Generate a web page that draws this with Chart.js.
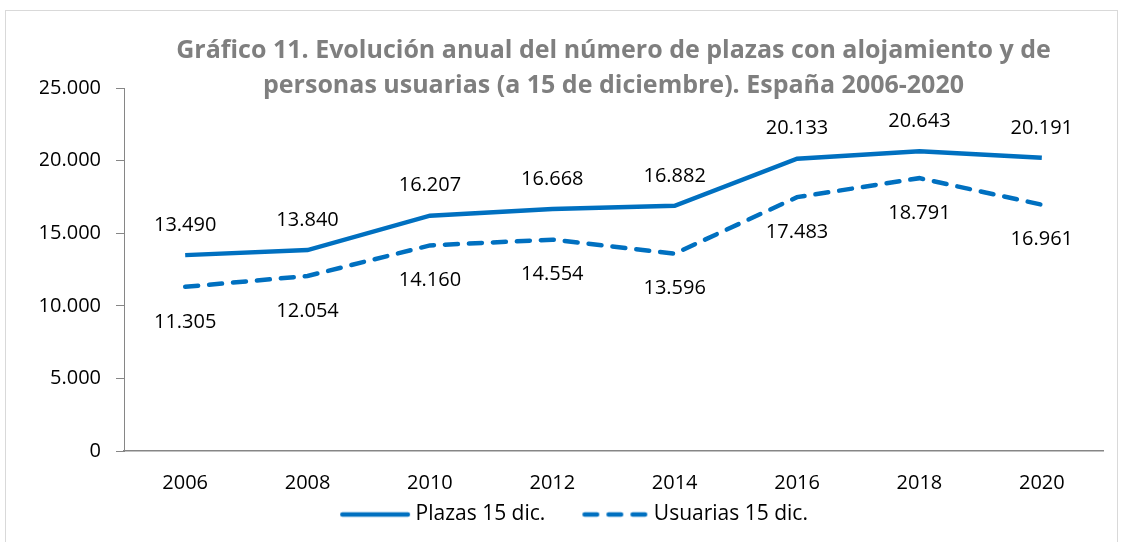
<!DOCTYPE html>
<html>
<head>
<meta charset="utf-8">
<script src="https://cdn.jsdelivr.net/npm/chart.js@4"></script>
<style>
  html, body { margin: 0; padding: 0; background: #fff; }
  #wrap { position: absolute; left: 5px; top: 10px; width: 1113px; height: 540px; border: 1px solid #d9d9d9; box-sizing: border-box; }
  #box { position: absolute; left: 0; top: 0; width: 1123px; height: 542px; }
</style>
</head>
<body>
<div id="wrap"></div>
<div id="box"><canvas id="chart" width="1123" height="542"></canvas></div>
<script>
const years = ['2006', '2008', '2010', '2012', '2014', '2016', '2018', '2020'];
const plazas = [13490, 13840, 16207, 16668, 16882, 20133, 20643, 20191];
const usuarias = [11305, 12054, 14160, 14554, 13596, 17483, 18791, 16961];
const seriesNames = ['Plazas 15 dic.', 'Usuarias 15 dic.'];
const titleLines = [
  'Gráfico 11. Evolución anual del número de plazas con alojamiento y de',
  'personas usuarias (a 15 de diciembre). España 2006-2020'
];

const FONT = "'Open Sans', sans-serif";
const BLUE = '#0070c0';
const LW = 4.5;

function fmt(v) {
  return String(v).replace(/\B(?=(\d{3})+(?!\d))/g, '.');
}

// small canvases used as legend symbols (solid / dashed line)
function lineSymbol(from, to, dash) {
  const c = document.createElement('canvas');
  c.width = 100;
  c.height = 8;
  const g = c.getContext('2d');
  g.strokeStyle = BLUE;
  g.lineWidth = LW;
  g.lineCap = 'round';
  g.setLineDash(dash);
  g.beginPath();
  g.moveTo(from, 4);
  g.lineTo(to, 4);
  g.stroke();
  return c;
}
const symbols = [lineSymbol(22.25, 87.75, []), lineSymbol(26.25, 87, [12.5, 11.5])];

// labels above the solid line, below the dashed one
const valueLabels = {
  id: 'valueLabels',
  afterDatasetsDraw(chart) {
    const ctx = chart.ctx;
    ctx.save();
    ctx.font = '20px ' + FONT;
    ctx.fillStyle = '#000';
    ctx.textAlign = 'center';
    ctx.textBaseline = 'middle';
    chart.data.datasets.forEach((ds, i) => {
      const meta = chart.getDatasetMeta(i);
      const off = i === 0 ? -30 : 35;
      meta.data.forEach((pt, j) => {
        ctx.fillText(fmt(ds.data[j]), pt.x, pt.y + off);
      });
    });
    ctx.restore();
  }
};

new Chart(document.getElementById('chart').getContext('2d'), {
  type: 'line',
  data: {
    labels: years,
    datasets: [{
      label: seriesNames[0],
      data: plazas,
      borderColor: BLUE,
      backgroundColor: BLUE,
      borderWidth: LW,
      pointRadius: 0,
      tension: 0
    }, {
      label: seriesNames[1],
      data: usuarias,
      borderColor: BLUE,
      backgroundColor: BLUE,
      borderWidth: LW,
      borderDash: [13, 11],
      borderCapStyle: 'round',
      pointRadius: 0,
      tension: 0
    }]
  },
  options: {
    responsive: false,
    animation: false,
    layout: { padding: { left: 40, right: 20, top: 0, bottom: 7 } },
    scales: {
      x: {
        offset: true,
        afterFit(scale) { scale.height = 46; },
        grid: { display: false, drawTicks: false },
        border: { display: true, color: '#868686', width: 1.5 },
        ticks: { color: '#000', font: { family: FONT, size: 20 }, padding: 20 }
      },
      y: {
        min: 0,
        max: 25000,
        afterFit(scale) { scale.width = 84; },
        grid: { drawOnChartArea: false, drawTicks: true, tickLength: 8, color: '#868686' },
        border: { display: true, color: '#868686', width: 1 },
        ticks: {
          stepSize: 5000,
          color: '#000',
          padding: 15,
          font: { family: FONT, size: 20 },
          callback: v => fmt(v)
        }
      }
    },
    plugins: {
      title: {
        display: true,
        fullSize: false,
        text: titleLines,
        color: '#7f7f7f',
        font: { family: FONT, size: 25, weight: 'bold', lineHeight: 1.38 },
        padding: { top: 34, bottom: -15 }
      },
      legend: {
        position: 'bottom',
        labels: {
          usePointStyle: true,
          pointStyleWidth: 70,
          color: '#000',
          font: { family: FONT, size: 21 },
          padding: 7,
          generateLabels(chart) {
            return chart.data.datasets.map((ds, i) => ({
              text: i === 0 ? ds.label + '\u2003' : ds.label,
              fontColor: '#000',
              pointStyle: symbols[i],
              lineWidth: 0,
              datasetIndex: i
            }));
          }
        }
      },
      tooltip: { enabled: false }
    }
  },
  plugins: [valueLabels]
});
</script>
</body>
</html>
